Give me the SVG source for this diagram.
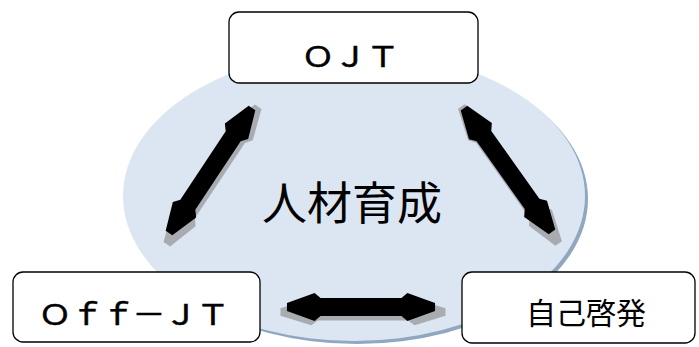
<svg xmlns="http://www.w3.org/2000/svg" width="699" height="347" viewBox="0 0 699 347">
<defs>
<style>
.box{fill:#fff;stroke:#000;stroke-width:1.3}
.lat{font-family:"Noto Sans CJK JP","Noto Sans",sans-serif;font-size:29px;fill:#000;stroke:#000;stroke-width:0.5;text-anchor:middle}
.jp{font-family:"Noto Sans CJK JP",sans-serif;fill:#000;text-anchor:middle}
.arr{fill:#000}
.sh{fill:#A8ABB0}
</style>
<polygon id="dbl" points="-75,-4 -47,-14 -41,-9 41,-9 47,-14 75,-4 75,4 47,14 41,9 -41,9 -47,14 -75,4"/>
</defs>
<rect width="699" height="347" fill="#fff"/>
<g id="center">
<ellipse cx="357" cy="199" rx="231" ry="145" fill="#8FA7C0"/>
<ellipse cx="354" cy="196" rx="231" ry="145" fill="#DCE6F2"/>
<text class="jp" x="352" y="220" font-size="45">人材育成</text>
</g>
<g id="connectors">
<g transform="translate(212.5,175.5) rotate(123.6) scale(1.1,1)"><use href="#dbl" class="sh"/></g>
<g transform="translate(210.5,170.5) rotate(123.6)"><use href="#dbl" class="arr"/></g>
<g transform="translate(510,175) rotate(54.6) scale(1.12,1)"><use href="#dbl" class="sh"/></g>
<g transform="translate(508,170) rotate(54.6) scale(1.013,1)"><use href="#dbl" class="arr"/></g>
<g transform="translate(363,312) scale(1.1,0.95)"><use href="#dbl" class="sh"/></g>
<g transform="translate(361,307) scale(0.987,1)"><use href="#dbl" class="arr"/></g>
</g>
<g id="ojt">
<rect class="box" x="229" y="12" width="249" height="71" rx="10"/>
<text class="lat" y="67" transform="scale(1.15,1)"><tspan x="276.5">Ｏ</tspan><tspan x="304.8">Ｊ</tspan><tspan x="333">Ｔ</tspan></text>
</g>
<g id="offjt">
<rect class="box" x="13" y="272" width="247" height="70" rx="10"/>
<text class="lat" y="325" transform="scale(1.15,1)"><tspan x="47.8">Ｏ</tspan><tspan x="75.7">ｆ</tspan><tspan x="102.6">ｆ</tspan><tspan x="129.6">－</tspan><tspan x="157.4">Ｊ</tspan><tspan x="185.2">Ｔ</tspan></text>
</g>
<g id="jikokeihatsu">
<rect class="box" x="462" y="272" width="233" height="71" rx="10"/>
<text class="jp" x="586" y="324" font-size="30">自己啓発</text>
</g>
</svg>
